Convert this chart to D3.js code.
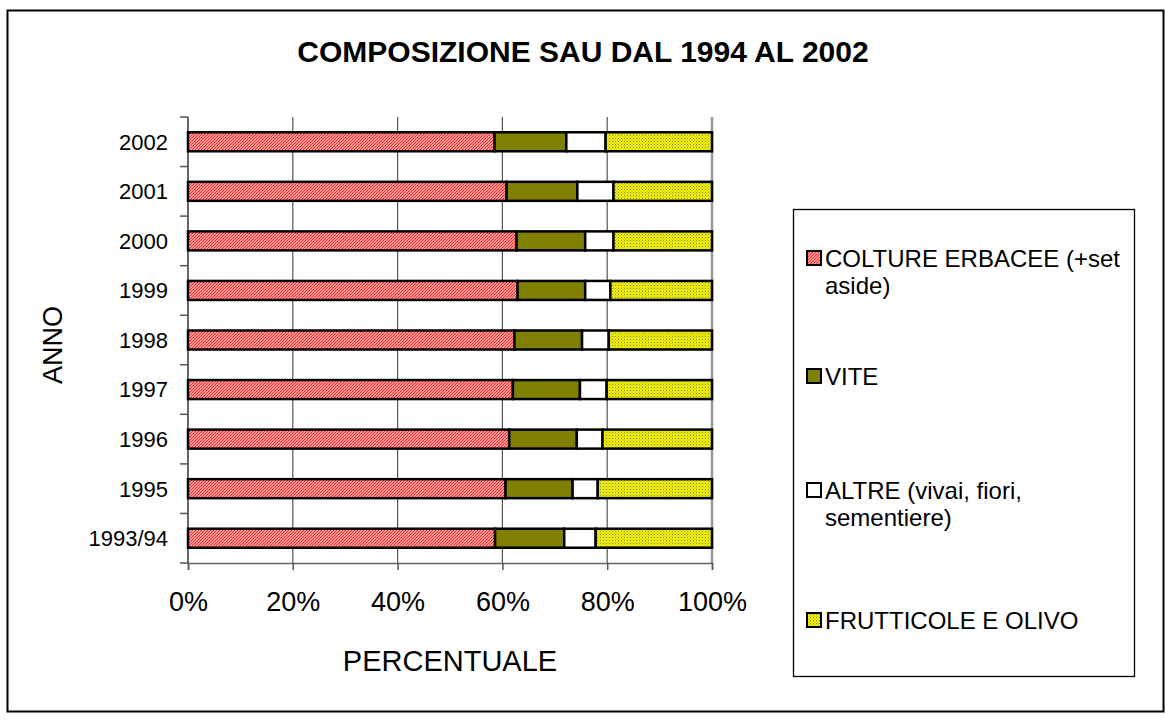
<!DOCTYPE html>
<html lang="it">
<head>
<meta charset="utf-8">
<title>Composizione SAU</title>
<script src="https://cdn.jsdelivr.net/npm/d3@7"></script>
<style>
  body { margin: 0; background: #fff; }
  svg { display: block; font-family: "Liberation Sans", Arial, sans-serif; }
</style>
</head>
<body>
<script>
// years, top to bottom as in the picture
var anni = ["2002", "2001", "2000", "1999", "1998", "1997", "1996", "1995", "1993/94"];

// percentage shares
var erbacee     = [58.5, 60.8, 62.7, 62.9, 62.3, 62.0, 61.3, 60.6, 58.6];
var vite        = [13.7, 13.5, 13.1, 12.9, 12.9, 12.8, 12.9, 12.8, 13.2];
var altre       = [ 7.5,  6.9,  5.4,  4.8,  5.1,  5.1,  4.9,  4.8,  6.0];
var frutticole  = [20.3, 18.8, 18.8, 19.4, 19.7, 20.1, 20.9, 21.8, 22.2];

var serie = ["COLTURE ERBACEE (+set aside)", "VITE", "ALTRE (vivai, fiori, sementiere)", "FRUTTICOLE E OLIVO"];
var xTicks = [0, 0.2, 0.4, 0.6, 0.8, 1];

var w = 1165, h = 722;
var plotL = 188, plotR = 712, plotT = 117, plotB = 563;

var svg = d3.select("body").append("svg")
    .attr("width", w)
    .attr("height", h);

// patterns for the hatched fills
var defs = svg.append("defs");
var pRed = defs.append("pattern")
    .attr("id", "pRed")
    .attr("patternUnits", "userSpaceOnUse")
    .attr("width", 3).attr("height", 3);
pRed.append("rect").attr("width", 3).attr("height", 3).attr("fill", "#ffd8d8");
pRed.append("path").attr("d", "M-1,1 L1,-1 M0,3 L3,0 M2,4 L4,2")
    .attr("stroke", "#ff1a1a").attr("stroke-width", 1.2);

var pYel = defs.append("pattern")
    .attr("id", "pYel")
    .attr("patternUnits", "userSpaceOnUse")
    .attr("width", 3).attr("height", 3);
pYel.append("rect").attr("width", 3).attr("height", 3).attr("fill", "#f0f000");
pYel.append("rect").attr("x", 0).attr("y", 0).attr("width", 1).attr("height", 1).attr("fill", "#8a8a40");
pYel.append("rect").attr("x", 1.5).attr("y", 1.5).attr("width", 1).attr("height", 1).attr("fill", "#b0b050");

var colori = ["url(#pRed)", "#808000", "#ffffff", "url(#pYel)"];

// outer frame
svg.append("rect")
    .attr("x", 7.5).attr("y", 10.5)
    .attr("width", 1156).attr("height", 701)
    .attr("fill", "none")
    .attr("stroke", "#000")
    .attr("stroke-width", 2);

// title
svg.append("text")
    .attr("x", 583).attr("y", 62)
    .attr("text-anchor", "middle")
    .attr("font-size", 30)
    .attr("font-weight", "bold")
    .text("COMPOSIZIONE SAU DAL 1994 AL 2002");

var x = d3.scaleLinear().domain([0, 1]).range([plotL, plotR]);
var yb = d3.scaleBand().domain(anni).range([plotT, plotB]);

// rows for the stack
var righe = anni.map(function(a, i) {
    return { anno: a, s0: erbacee[i], s1: vite[i], s2: altre[i], s3: frutticole[i] };
});
var stacked = d3.stack()
    .keys(["s0", "s1", "s2", "s3"])
    .offset(d3.stackOffsetExpand)(righe);

// vertical gridlines
svg.append("g").selectAll("line")
    .data(xTicks.slice(1))
    .enter().append("line")
    .attr("x1", function(d) { return x(d); })
    .attr("x2", function(d) { return x(d); })
    .attr("y1", plotT).attr("y2", plotB)
    .attr("stroke", function(d) { return d === 1 ? "#999" : "#555"; })
    .attr("stroke-width", function(d) { return d === 1 ? 2.5 : 1.2; });

// x axis
var xAxis = svg.append("g")
    .attr("transform", "translate(0," + plotB + ")")
    .call(d3.axisBottom(x).tickValues(xTicks).tickFormat(d3.format(".0%")).tickSize(7).tickPadding(22));
xAxis.select(".domain").attr("stroke", "#666").attr("stroke-width", 1.5);
xAxis.selectAll(".tick line").attr("stroke", "#555").attr("stroke-width", 1.5);
xAxis.selectAll("text").attr("font-size", 27).attr("fill", "#000")
    .attr("font-family", "'Liberation Sans', Arial, sans-serif");

// y axis: ticks sit on band boundaries
var yAxis = svg.append("g").attr("transform", "translate(" + plotL + ",0)");
yAxis.append("line")
    .attr("x1", 0).attr("x2", 0).attr("y1", plotT).attr("y2", plotB)
    .attr("stroke", "#666").attr("stroke-width", 2);
yAxis.selectAll(".tk")
    .data(anni)
    .enter().append("line")
    .attr("class", "tk")
    .attr("x1", -8).attr("x2", 0)
    .attr("y1", function(d) { return yb(d) + yb.bandwidth(); })
    .attr("y2", function(d) { return yb(d) + yb.bandwidth(); })
    .attr("stroke", "#555").attr("stroke-width", 1.5);
yAxis.append("line")
    .attr("x1", -8).attr("x2", 0).attr("y1", plotT).attr("y2", plotT)
    .attr("stroke", "#555").attr("stroke-width", 1.5);
yAxis.selectAll("text")
    .data(anni)
    .enter().append("text")
    .attr("x", -20)
    .attr("y", function(d) { return yb(d) + yb.bandwidth() / 2; })
    .attr("dy", "0.36em")
    .attr("text-anchor", "end")
    .attr("font-size", 22)
    .text(function(d) { return d; });

// bars
svg.append("g").selectAll("g")
    .data(stacked)
    .enter().append("g")
    .attr("fill", function(d, i) { return colori[i]; })
    .selectAll("rect")
    .data(function(d) { return d; })
    .enter().append("rect")
    .attr("x", function(d) { return x(d[0]); })
    .attr("width", function(d) { return x(d[1]) - x(d[0]); })
    .attr("y", function(d) { return yb(d.data.anno) + (yb.bandwidth() - 19) / 2; })
    .attr("height", 19)
    .attr("stroke", "#000")
    .attr("stroke-width", 2.5);

// axis titles
svg.append("text")
    .attr("x", 450).attr("y", 671)
    .attr("text-anchor", "middle")
    .attr("font-size", 29)
    .text("PERCENTUALE");

svg.append("text")
    .attr("transform", "translate(62,345) rotate(-90)")
    .attr("text-anchor", "middle")
    .attr("font-size", 27)
    .text("ANNO");

// legend
var legenda = svg.append("g");
legenda.append("rect")
    .attr("x", 793.5).attr("y", 209.5)
    .attr("width", 341).attr("height", 467)
    .attr("fill", "#fff")
    .attr("stroke", "#000")
    .attr("stroke-width", 1.3);

var legRighe = [
    ["COLTURE ERBACEE (+set", "aside)"],
    ["VITE"],
    ["ALTRE (vivai, fiori,", "sementiere)"],
    ["FRUTTICOLE E OLIVO"]
];
var legY = [258, 376, 490, 620];

var voci = legenda.selectAll(".voce")
    .data(serie)
    .enter().append("g")
    .attr("class", "voce")
    .attr("transform", function(d, i) { return "translate(0," + legY[i] + ")"; });

voci.append("rect")
    .attr("x", 807).attr("y", -7)
    .attr("width", 14).attr("height", 14)
    .attr("fill", function(d, i) { return colori[i]; })
    .attr("stroke", "#000")
    .attr("stroke-width", 2);

voci.each(function(d, i) {
    var t = d3.select(this).append("text")
        .attr("x", 825).attr("y", 0)
        .attr("font-size", 24);
    legRighe[i].forEach(function(r, k) {
        t.append("tspan")
            .attr("x", 825)
            .attr("dy", k === 0 ? "0.36em" : "1.15em")
            .text(r);
    });
});
</script>
</body>
</html>
